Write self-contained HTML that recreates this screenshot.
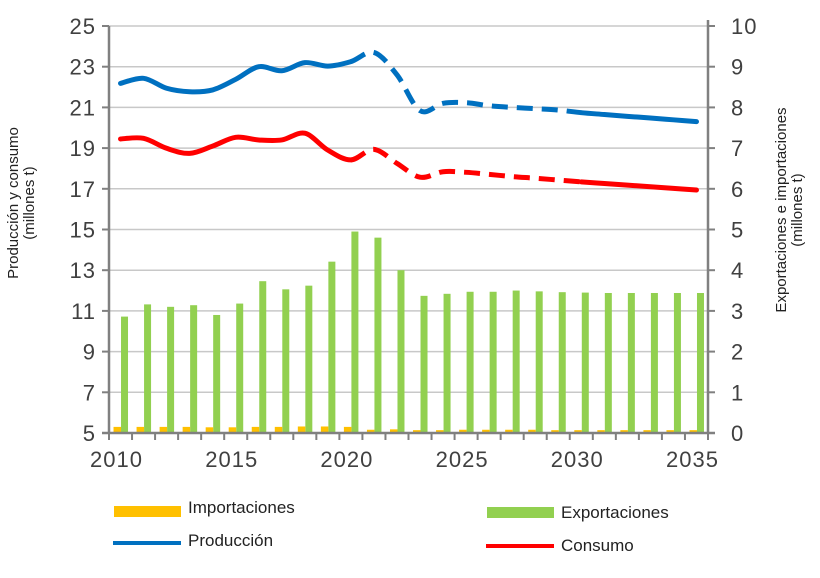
<!DOCTYPE html>
<html><head><meta charset="utf-8"><style>
body{margin:0;background:#fff;}
svg text{font-family:"Liberation Sans",sans-serif;}
</style></head><body>
<svg id="c" width="820" height="573" xmlns="http://www.w3.org/2000/svg"></svg>
<script>
const years=[2010,2011,2012,2013,2014,2015,2016,2017,2018,2019,2020,2021,2022,2023,2024,2025,2026,2027,2028,2029,2030,2031,2032,2033,2034,2035];
const exportaciones=[2.86,3.16,3.10,3.14,2.90,3.18,3.73,3.53,3.62,4.21,4.95,4.80,4.0,3.37,3.42,3.47,3.47,3.50,3.48,3.46,3.45,3.44,3.44,3.44,3.44,3.44];
const importaciones=[0.15,0.15,0.15,0.15,0.14,0.14,0.15,0.15,0.16,0.16,0.15,0.08,0.09,0.07,0.07,0.08,0.08,0.08,0.08,0.07,0.07,0.07,0.07,0.07,0.07,0.07];
const produccion=[22.18,22.43,21.94,21.77,21.86,22.38,23.0,22.8,23.2,23.03,23.25,23.7,22.6,20.84,21.2,21.23,21.08,21.0,20.94,20.87,20.74,20.65,20.56,20.48,20.39,20.3];
const consumo=[19.45,19.48,18.99,18.74,19.1,19.53,19.4,19.4,19.73,18.9,18.42,18.94,18.25,17.57,17.84,17.81,17.71,17.6,17.52,17.43,17.34,17.26,17.18,17.1,17.02,16.94];
const leftTicks=[5,7,9,11,13,15,17,19,21,23,25];
const rightTicks=[0,1,2,3,4,5,6,7,8,9,10];
const xLabels=[2010,2015,2020,2025,2030,2035];

const svg=document.getElementById('c');
const NS='http://www.w3.org/2000/svg';
const X0=109,X1=708,Y0=433,Y1=26;
const bw=(X1-X0)/years.length;
const xc=i=>X0+bw*(i+0.5);
const yL=v=>Y0-(v-5)/20*(Y0-Y1);
const yR=v=>Y0-v/10*(Y0-Y1);
function el(tag,attrs,parent){const e=document.createElementNS(NS,tag);for(const k in attrs)e.setAttribute(k,attrs[k]);(parent||svg).appendChild(e);return e;}

leftTicks.forEach(t=>{if(t===5)return;
 const g=el('line',{x1:X0,x2:X1,y1:yL(t),y2:yL(t),stroke:'#c8c8c8','stroke-width':1.5});
 
 
});
years.forEach((y,i)=>{
 const b=el('rect',{x:xc(i)+0.5,y:yR(exportaciones[i]),width:7,height:Y0-yR(exportaciones[i]),fill:'#92D050'});
 
 
 const o=el('rect',{x:xc(i)-7,y:yR(importaciones[i]),width:7.5,height:Y0-yR(importaciones[i]),fill:'#FFC000'});
 
 
});
const ax=[['left-axis',X0,Y1,X0,Y0+1],['right-axis',X1,Y1-6,X1,Y0+1],['x-axis',X0-7,Y0,X1+7,Y0]];
ax.forEach(a=>{const l=el('line',{x1:a[1],y1:a[2],x2:a[3],y2:a[4],stroke:'#808080','stroke-width':2.5});
 
 });
leftTicks.forEach(t=>{
 el('line',{x1:X0-7,x2:X0,y1:yL(t),y2:yL(t),stroke:'#808080','stroke-width':2});
 const tx=el('text',{x:X0-13,y:yL(t)+8,'text-anchor':'end','font-size':22,fill:'#404040','letter-spacing':1});tx.textContent=t;
 
 
});
rightTicks.forEach(t=>{
 el('line',{x1:X1,x2:X1+7,y1:yR(t),y2:yR(t),stroke:'#808080','stroke-width':2});
 const tx=el('text',{x:X1+23,y:yR(t)+8,'font-size':22,fill:'#404040','letter-spacing':1});tx.textContent=t;
 
 
});
for(let i=0;i<=years.length;i++)el('line',{x1:X0+bw*i,x2:X0+bw*i,y1:Y0,y2:Y0+7,stroke:'#808080','stroke-width':2});
xLabels.forEach(yv=>{const i=years.indexOf(yv);
 const tx=el('text',{x:xc(i)-4,y:Y0+34,'text-anchor':'middle','font-size':22,fill:'#404040','letter-spacing':1});tx.textContent=yv;
 
 
});
function path(vals,a,b){
 const p=vals.map((v,i)=>[xc(i),yL(v)]);
 let d='M'+p[a][0]+','+p[a][1];
 for(let i=a;i<b;i++){const p0=p[Math.max(i-1,0)],p1=p[i],p2=p[i+1],p3=p[Math.min(i+2,p.length-1)];
  const c1=[p1[0]+(p2[0]-p0[0])/6,p1[1]+(p2[1]-p0[1])/6],c2=[p2[0]-(p3[0]-p1[0])/6,p2[1]-(p3[1]-p1[1])/6];
  d+=' C'+c1+' '+c2+' '+p2;}
 return d;}
[['produccion',produccion,'#0070C0'],['consumo',consumo,'#FF0000']].forEach(s=>{
 [[0,10,null],[10,20,'16 9'],[20,25,null]].forEach((seg,k)=>{
  const a={d:path(s[1],seg[0],seg[1]),fill:'none',stroke:s[2],'stroke-width':5,'stroke-linecap':seg[2]?'butt':'round'};
  if(seg[2])a['stroke-dasharray']=seg[2];
  const l=el('path',a);
  
  
 });
});
</script>
<div style="position:absolute;left:0;top:0;width:820px;height:573px;pointer-events:none;font-family:'Liberation Sans',sans-serif;color:#222">
 <div style="position:absolute;left:-128px;top:187px;width:300px;text-align:center;transform:rotate(-90deg);font-size:15px;line-height:16px">Producción y consumo<br>(millones t)</div>
 <div style="position:absolute;left:640px;top:194px;width:300px;text-align:center;transform:rotate(-90deg);font-size:15px;line-height:16px">Exportaciones e importaciones<br>(millones t)</div>
 <div><div style="position:absolute;left:114px;top:506px;width:67px;height:11px;background:#FFC000"></div><div style="position:absolute;left:188px;top:498px;font-size:17px">Importaciones</div></div>
 <div><div style="position:absolute;left:487px;top:507px;width:67px;height:11px;background:#92D050"></div><div style="position:absolute;left:561px;top:503px;font-size:17px">Exportaciones</div></div>
 <div><div style="position:absolute;left:113px;top:541px;width:68px;height:4px;background:#0070C0"></div><div style="position:absolute;left:188px;top:531px;font-size:17px">Producción</div></div>
 <div><div style="position:absolute;left:486px;top:544px;width:68px;height:4px;background:#FF0000"></div><div style="position:absolute;left:561px;top:536px;font-size:17px">Consumo</div></div>
</div>
</body></html>
